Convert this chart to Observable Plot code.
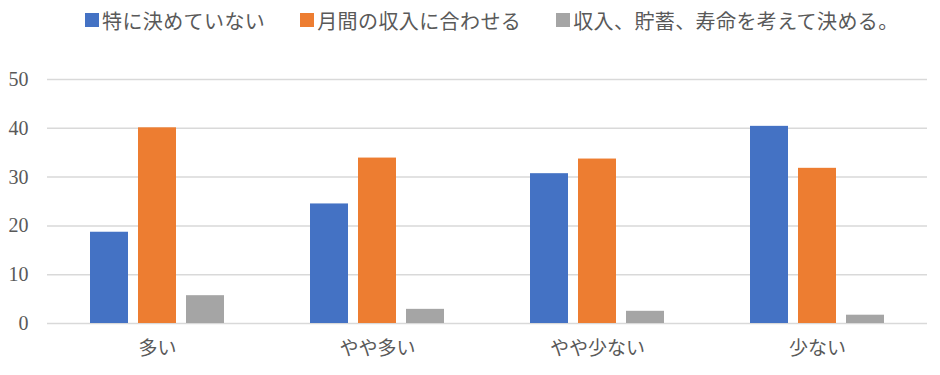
<!DOCTYPE html>
<html><head><meta charset="utf-8">
<script src="https://cdn.jsdelivr.net/npm/d3@7"></script>
<script src="https://cdn.jsdelivr.net/npm/@observablehq/plot@0.6"></script>
<style>
body{margin:0;background:#fff;width:940px;height:375px;overflow:hidden;}
#legend{height:40px;display:flex;align-items:center;padding-left:85px;font-family:"Noto Sans CJK JP",sans-serif;font-size:20px;letter-spacing:0.4px;color:#595959;box-sizing:border-box;}
.item{display:flex;align-items:center;margin-right:35px;white-space:nowrap;}
.sw{width:14px;height:14px;margin-right:3px;display:inline-block;}
</style></head>
<body>
<div id="legend"></div>
<div id="chart"></div>
<script>
const categories = ["多い", "やや多い", "やや少ない", "少ない"];
const seriesNames = ["特に決めていない", "月間の収入に合わせる", "収入、貯蓄、寿命を考えて決める。"];
const notDecided = [18.7, 24.5, 30.7, 40.4];
const matchIncome = [40.1, 33.9, 33.7, 31.8];
const considerAll = [5.7, 2.9, 2.5, 1.7];
const yTicks = [0, 10, 20, 30, 40, 50];
const colors = ["#4472C4", "#ED7D31", "#A5A5A5"];

const seriesValues = [notDecided, matchIncome, considerAll];
const data = [];
categories.forEach((c, i) => seriesNames.forEach((s, j) => data.push({category: c, series: s, value: seriesValues[j][i]})));

const legend = document.getElementById("legend");
seriesNames.forEach((s, j) => {
  const it = document.createElement("div"); it.className = "item";
  const sw = document.createElement("span"); sw.className = "sw"; sw.style.background = colors[j];
  it.appendChild(sw); it.appendChild(document.createTextNode(s));
  legend.appendChild(it);
});

const chart = Plot.plot({
  width: 940, height: 335,
  marginTop: 39, marginBottom: 52, marginLeft: 46, marginRight: 13,
  style: {fontFamily: "'Noto Sans CJK JP', sans-serif", fontSize: "19px", color: "#595959", background: "#fff"},
  fx: {domain: categories, padding: 0, label: null, axis: null},
  x: {domain: seriesNames, paddingInner: 0.21, paddingOuter: 0.86, axis: null},
  y: {domain: [0, 50], axis: null},
  color: {domain: seriesNames, range: colors},
  marks: [
    Plot.ruleY(yTicks, {stroke: "#d9d9d9", strokeWidth: 1.5}),
    Plot.barY(data, {fx: "category", x: "series", y: "value", fill: "series"}),
    Plot.axisY({ticks: yTicks, tickSize: 0, tickPadding: 19, label: null, fontFamily: "'Liberation Serif', serif", fontSize: 20, fill: "#595959"}),
    Plot.axisFx({tickSize: 0, tickPadding: 18, label: null, anchor: "bottom", fill: "#595959", fontSize: 19})
  ]
});
document.getElementById("chart").appendChild(chart);
</script>
</body></html>
